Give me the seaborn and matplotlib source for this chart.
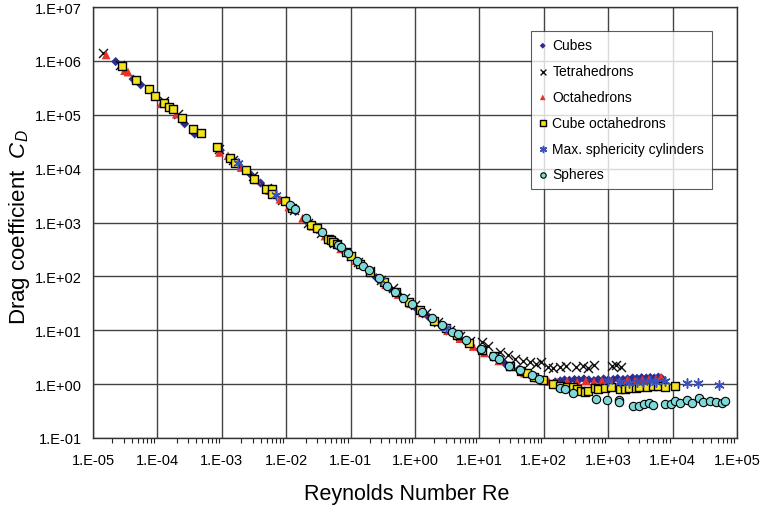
import matplotlib
matplotlib.use("Agg")
import matplotlib.pyplot as plt
import seaborn as sns
import pandas as pd
from matplotlib.ticker import LogLocator, FixedLocator, NullLocator

# ---------------- data ----------------
cubes_re = [2.25e-5, 4.2e-5, 5.5e-5, 2.65e-4, 3.8e-4, 9.5e-4, 1.8e-3, 2.8e-3, 4.0e-3, 6.0e-3,
            9.0e-3, 1.4e-2, 2.0e-2, 3.0e-2, 5.0e-2, 0.08, 0.15, 0.25, 0.4, 0.6, 1.0, 1.6, 2.5,
            4, 6, 10, 16, 25, 40, 60, 100, 150, 180, 210, 250, 300, 350, 420, 500, 600, 700,
            850, 1000, 1200, 1400, 1700, 2000, 2400, 2800, 3300, 3900, 4500, 5200, 6000, 6800]
cubes_cd = [9.7e5, 4.6e5, 3.6e5, 6.8e4, 4.4e4, 2.2e4, 1.2e4, 7.8e3, 5.4e3, 3.6e3,
            2.45e3, 1.6e3, 1.1e3, 740, 450, 285, 155, 95, 61, 42, 27, 18, 12.5,
            8.6, 6.3, 4.4, 3.2, 2.4, 1.85, 1.5, 1.2, 1.1, 1.15, 1.2, 1.18, 1.22, 1.2, 1.25, 1.2, 1.17, 1.22,
            1.25, 1.2, 1.22, 1.27, 1.22, 1.25, 1.3, 1.28, 1.32, 1.3, 1.33, 1.3, 1.35, 1.28]

tetra_re = [1.45e-5, 2.6e-5, 1.25e-4, 2.1e-4, 9.2e-4, 1.5e-3, 3.0e-3, 5.0e-3, 8.5e-3, 1.3e-2,
            2.2e-2, 3.5e-2, 4.6e-2, 5.5e-2, 0.1, 0.13, 0.2, 0.3, 0.45, 0.7, 1.0, 1.5, 2.3, 3.5,
            5.0, 7.1, 10.9, 13.7, 21, 28, 36, 47, 60, 77, 92, 117, 140, 176, 225, 320, 400, 480,
            600, 1150, 1300, 1600]
tetra_cd = [1.38e6, 8.3e5, 1.8e5, 1.05e5, 2.3e4, 1.45e4, 7.2e3, 4.4e3, 2.6e3, 1.7e3,
            1.0e3, 650, 500, 420, 240, 185, 125, 87, 60, 40, 29, 20.5, 14, 10,
            7.8, 6.4, 6.0, 5.2, 3.9, 3.4, 2.95, 2.74, 2.55, 2.38, 2.56, 2.07, 1.95, 2.1, 2.2, 2.07, 2.15, 2.0,
            2.28, 2.2, 2.3, 2.07]

octa_re = [1.6e-5, 3.1e-5, 3.5e-5, 1.14e-4, 1.97e-4, 2.4e-4, 9.2e-4, 1.25e-3, 2.0e-3, 3.5e-3,
           5.5e-3, 8.0e-3, 1.1e-2, 1.8e-2, 2.6e-2, 4.0e-2, 0.07, 0.12, 0.2, 0.35, 0.55, 0.85, 1.3,
           2.0, 3.2, 5, 8, 12, 20, 30, 50, 80, 120, 160, 230, 330, 450, 600, 800, 1100, 1500,
           2000, 2600, 3400, 4300, 5500, 6600]
octa_cd = [1.29e6, 6.6e5, 6.2e5, 1.6e5, 1.03e5, 8.5e4, 2.0e4, 1.74e4, 1.05e4, 6.2e3,
           3.9e3, 2.7e3, 1.95e3, 1.2e3, 850, 560, 325, 195, 118, 70, 46, 31, 21,
           14.5, 9.8, 7.0, 5.0, 3.8, 2.7, 2.1, 1.6, 1.3, 1.12, 1.1, 1.12, 1.08, 1.15, 1.1, 1.15, 1.1, 1.12,
           1.2, 1.15, 1.2, 1.22, 1.25, 1.35]

cuboct_re = [2.79e-5, 4.66e-5, 7.5e-5, 9.3e-5, 1.28e-4, 1.5e-4, 1.77e-4, 2.41e-4, 3.6e-4, 4.8e-4,
             8.5e-4, 1.34e-3, 1.6e-3, 2.38e-3, 3.16e-3, 4.85e-3, 6.0e-3, 6.1e-3, 9.7e-3, 1.23e-2,
             2.45e-2, 2.97e-2, 4.5e-2, 4.9e-2, 5.3e-2, 6.1e-2, 0.085, 0.1, 0.14, 0.2, 0.33, 0.5, 0.8,
             1.2, 2.0, 3.0, 4.5, 7.0, 11, 17, 30, 45, 55, 70, 98, 140, 180, 230, 280, 330, 380, 430,
             480, 620, 700, 900, 1100, 1500, 1800, 2100, 2700, 3000, 4000, 5000, 6000, 7500, 10800]
cuboct_cd = [8.1e5, 4.4e5, 3.0e5, 2.23e5, 1.67e5, 1.38e5, 1.26e5, 8.8e4, 5.5e4, 4.5e4,
             2.5e4, 1.6e4, 1.29e4, 9.5e3, 6.4e3, 4.2e3, 4.1e3, 3.4e3, 2.5e3, 1.84e3,
             915, 783, 497, 470, 440, 400, 280, 240, 170, 120, 77, 52, 34,
             23.5, 15, 10.8, 8.2, 5.9, 4.3, 3.3, 2.2, 1.75, 1.6, 1.35, 1.17, 1.0, 0.92, 0.88, 0.87, 0.8, 0.75, 0.72,
             0.76, 0.85, 0.8, 0.85, 0.9, 0.82, 0.8, 0.85, 0.83, 0.9, 0.87, 0.92, 0.93, 0.9, 0.91]

cyl_re = [1.8e-3, 7.0e-3, 0.3, 3.0, 1000, 1500, 2100, 2800, 3500, 4500, 5500, 7700, 17000, 25000, 52000]
cyl_cd = [1.25e4, 3.2e3, 85, 11, 1.15, 1.1, 1.07, 1.1, 1.1, 1.12, 1.1, 1.15, 1.07, 1.07, 0.97]

sph_re = [0.0115, 0.0135, 0.020, 0.036, 0.063, 0.072, 0.092, 0.124, 0.158, 0.19, 0.275, 0.37, 0.49,
          0.66, 0.9, 1.28, 1.81, 2.6, 3.7, 4.7, 6.3, 10.5, 16, 20, 29, 43, 65, 83, 180, 210, 280,
          650, 950, 1450, 1450, 2400, 3000, 3600, 4300, 5000, 7500, 9500, 11000, 13000, 17000, 20000,
          26000, 30000, 38000, 48000, 59000, 64000]
sph_cd = [2070, 1800, 1200, 676, 380, 350, 273, 197, 159, 134, 93, 66, 52,
          39.5, 30.5, 21.7, 16.7, 12.6, 9.2, 8.6, 6.5, 4.5, 3.3, 2.95, 2.16, 1.8, 1.45, 1.22, 0.84, 0.8, 0.69,
          0.53, 0.51, 0.5, 0.46, 0.4, 0.39, 0.42, 0.44, 0.41, 0.42, 0.43, 0.49, 0.44, 0.5, 0.45,
          0.55, 0.47, 0.48, 0.47, 0.44, 0.49]

x_ticks = [1e-5, 1e-4, 1e-3, 1e-2, 1e-1, 1e0, 1e1, 1e2, 1e3, 1e4, 1e5]
y_ticks = [1e-1, 1e0, 1e1, 1e2, 1e3, 1e4, 1e5, 1e6, 1e7]
x_labels = ["1.E-05", "1.E-04", "1.E-03", "1.E-02", "1.E-01", "1.E+00", "1.E+01",
            "1.E+02", "1.E+03", "1.E+04", "1.E+05"]
y_labels = ["1.E-01", "1.E+00", "1.E+01", "1.E+02", "1.E+03", "1.E+04", "1.E+05",
            "1.E+06", "1.E+07"]

# ---------------- style ----------------
sns.set_style("white")
plt.rcParams["font.family"] = ["Liberation Sans", "DejaVu Sans"]
plt.rcParams["mathtext.fontset"] = "custom"
plt.rcParams["mathtext.rm"] = "Liberation Sans"
plt.rcParams["mathtext.it"] = "Liberation Sans:italic"
plt.rcParams["text.color"] = "black"
plt.rcParams["axes.labelcolor"] = "black"
plt.rcParams["xtick.color"] = "black"
plt.rcParams["ytick.color"] = "black"

fig = plt.figure(figsize=(7.6, 5.06), dpi=100)
ax = fig.add_axes([93 / 760, 1 - 439 / 506, (737 - 93) / 760, (439 - 8) / 506])

series = [
    ("Cubes", cubes_re, cubes_cd, dict(marker="D", color="#2E2C8E", s=22, edgecolor="none")),
    ("Tetrahedrons", tetra_re, tetra_cd, dict(marker="x", color="#111111", s=42, linewidth=1.0)),
    ("Octahedrons", octa_re, octa_cd, dict(marker="^", color="#E8312A", s=40, edgecolor="none")),
    ("Cube octahedrons", cuboct_re, cuboct_cd, dict(marker="s", color="#F2E41C", s=36,
                                                   edgecolor="black", linewidth=1.0)),
    ("Max. sphericity cylinders", cyl_re, cyl_cd, dict(marker=(6, 2, 0), color="#3A50B8", s=44,
                                                        linewidth=1.1)),
    ("Spheres", sph_re, sph_cd, dict(marker="o", color="#7FD8D8", s=36,
                                     edgecolor="black", linewidth=0.8)),
]

for name, xs, ys, kw in series:
    df = pd.DataFrame({"Re": xs, "CD": ys})
    sns.scatterplot(data=df, x="Re", y="CD", ax=ax, label=name, **kw)

ax.set_xscale("log")
ax.set_yscale("log")
ax.set_xlim(1e-5, 1e5)
ax.set_ylim(1e-1, 1e7)

ax.xaxis.set_major_locator(FixedLocator(x_ticks))
ax.yaxis.set_major_locator(FixedLocator(y_ticks))
ax.set_xticklabels(x_labels)
ax.set_yticklabels(y_labels)
ax.xaxis.set_minor_locator(LogLocator(base=10, subs=range(2, 10), numticks=100))
ax.yaxis.set_minor_locator(NullLocator())
ax.tick_params(axis="both", which="major", direction="out", length=5, width=1,
               color="#222222", labelsize=10.5, pad=6)
ax.tick_params(axis="x", which="minor", direction="out", length=3.5, width=0.8,
               color="#222222", bottom=True)
ax.tick_params(axis="y", which="major", pad=3)

ax.grid(True, which="major", color="#444444", linewidth=1.0)
ax.set_axisbelow(True)
for sp in ax.spines.values():
    sp.set_color("#333333")
    sp.set_linewidth(1.0)

ax.set_xlabel("Reynolds Number Re", fontsize=15.5, labelpad=11)
ax.set_ylabel("Drag coefficient  $C_D$", fontsize=16, labelpad=2)
ax.xaxis.label.set_x((407 - 93) / 644)
ax.yaxis.label.set_y((439 - 227.5) / 431)

leg = ax.legend(loc="upper left", bbox_to_anchor=(0.680, 0.945), frameon=True, fancybox=False,
                edgecolor="#333333", fontsize=10, markerscale=0.65, handlelength=0.6,
                handletextpad=0.4, labelspacing=0.85, borderpad=0.55, borderaxespad=0)
leg.get_frame().set_linewidth(0.8)

fig.savefig("out.png", dpi=100)
